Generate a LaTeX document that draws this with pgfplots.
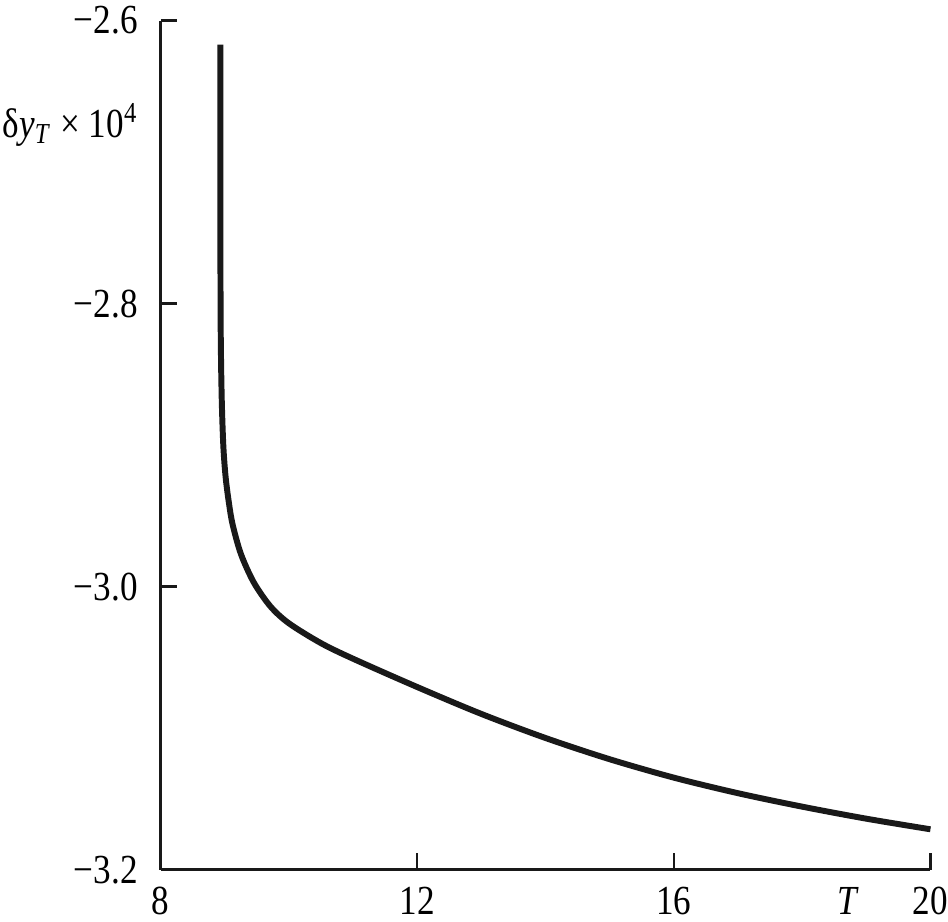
\documentclass[border=0pt]{standalone}
\usepackage{pgfplots}
\pgfplotsset{compat=1.18}
\usepackage{fontspec}
\setmainfont{Liberation Serif}

\begin{document}
\begin{tikzpicture}
\begin{axis}[
    width=232.8pt, height=256.8pt,
    scale only axis,
    axis x line=bottom, axis y line=left,
    axis line style={-, line width=0.9pt, black!90},
    xmin=8, xmax=20, ymin=-3.2, ymax=-2.6,
    xtick={8,12,16,20},
    xticklabels={8,12,16,20},
    ytick={-3.2,-3.0,-2.8,-2.6},
    yticklabels={−3.2,−3.0,−2.8,−2.6},
    /pgf/number format/assume math mode=true,
    tick align=inside,
    major tick length=5pt,
    tick style={line width=0.7pt, black!90},
    ticklabel style={font=\fontsize{12.5}{14}\selectfont, xscale=0.85, inner xsep=0pt, inner ysep=2pt},
    xticklabel style={yshift=-3pt},
    yticklabel style={xshift=-8pt},
    clip=false,
]
\addplot[line width=1.8pt, black!90, smooth, tension=0.5] coordinates {
    (8.93, -2.617)
    (8.93, -2.75)
    (8.935, -2.82)
    (8.95, -2.866)
    (8.975, -2.90)
    (9.01, -2.922)
    (9.06, -2.94)
    (9.12, -2.956)
    (9.25, -2.977)
    (9.45, -2.997)
    (9.71, -3.014)
    (10.0, -3.026)
    (10.5, -3.040)
    (11, -3.051)
    (12, -3.071)
    (13, -3.090)
    (14, -3.107)
    (15, -3.122)
    (16, -3.135)
    (17, -3.146)
    (18, -3.1555)
    (19, -3.164)
    (20, -3.1715)
};
\node[anchor=east, inner xsep=1pt, inner ysep=2pt, font=\fontsize{12.5}{14}\selectfont, xscale=0.85] at (rel axis cs:0,0.877) [xshift=-7pt]
    {δ\textit{y}\textsubscript{\textit{T}} × 10\textsuperscript{4}};
\node[anchor=north, inner xsep=0pt, inner ysep=2pt, font=\fontsize{12.5}{14}\selectfont\itshape, xscale=0.85] at (axis cs:18.7,-3.2) [yshift=-3pt] {T\vphantom{0}};
\end{axis}
\end{tikzpicture}
\end{document}
